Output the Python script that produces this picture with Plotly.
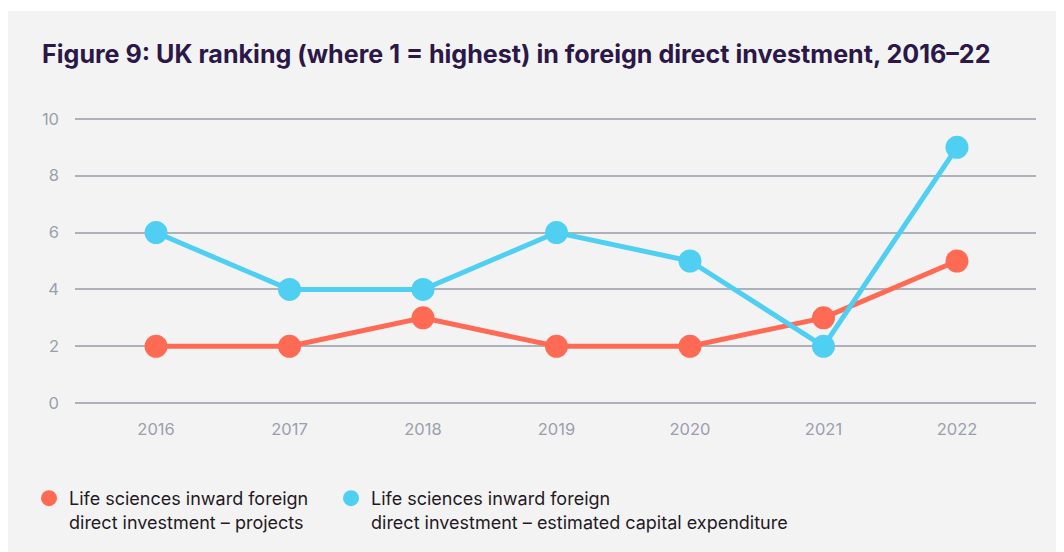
import plotly.graph_objects as go

years = [2016, 2017, 2018, 2019, 2020, 2021, 2022]
projects = [2, 2, 3, 2, 2, 3, 5]
capex = [6, 4, 4, 6, 5, 2, 9]

names = ["Life sciences inward foreign<br>direct investment – projects",
         "Life sciences inward foreign<br>direct investment – estimated capital expenditure"]
colours = ["#ff6a55", "#4fcff2"]

FONT = "Inter"
W, H = 1064, 552
ML, MR, MT, MB = 67, 36, 108, 154
pw, ph = W - ML - MR, H - MT - MB

fig = go.Figure()

# blue drawn last so it sits on top where the lines cross
for vals, col in [(projects, colours[0]), (capex, colours[1])]:
    fig.add_trace(go.Scatter(x=years, y=vals, mode="lines+markers",
                             line=dict(color=col, width=5),
                             marker=dict(color=col, size=23),
                             showlegend=False, hoverinfo="x+y"))

# legend-only entries with just a dot, one legend box each
for i, (name, col) in enumerate(zip(names, colours)):
    fig.add_trace(go.Scatter(x=[None], y=[None], mode="markers", name=name,
                             marker=dict(color=col, size=17),
                             legend="legend" if i == 0 else "legend2"))

# grey panel behind everything (white strip along the top)
fig.add_shape(type="rect", layer="below", line_width=0, fillcolor="#f3f3f3",
              xref="paper", yref="paper",
              x0=-ML / pw, x1=(W - ML) / pw,
              y0=-MB / ph, y1=(H - MB - 3) / ph)

leg = dict(orientation="h", xanchor="left", yanchor="top", valign="top",
           y=(H - MB - 472) / ph,
           font=dict(family=FONT, size=18, color="#1f1a24"),
           bgcolor="rgba(0,0,0,0)", itemclick=False, itemdoubleclick=False)

fig.update_layout(
    width=W, height=H,
    margin=dict(l=ML, r=MR, t=MT, b=MB),
    paper_bgcolor="white", plot_bgcolor="rgba(0,0,0,0)",
    font=dict(family=FONT, color="#9a9fae", size=16),
    title=dict(text="<b>Figure 9: UK ranking (where 1 = highest) in foreign direct investment, 2016–22</b>",
               x=34 / W, xanchor="left", xref="container",
               y=1 - 46 / H, yanchor="middle", yref="container",
               font=dict(family=FONT, size=25.1, color="#2b1748")),
    xaxis=dict(range=[2015.393, 2022.592], tickvals=years, showgrid=False,
               zeroline=False, showline=False, ticks="", ticklabelstandoff=11,
               tickfont=dict(color="#9a9fae", size=16.5)),
    yaxis=dict(range=[-0.1, 10.1], tickvals=[0, 2, 4, 6, 8, 10], showgrid=True,
               gridcolor="#aeb1ba", gridwidth=1.5, zeroline=False, showline=False,
               ticks="", ticklabelstandoff=15,
               tickfont=dict(color="#9a9fae", size=16.5)),
    legend=dict(leg, x=(21 - ML) / pw),
    legend2=dict(leg, x=(323 - ML) / pw),
)

fig.write_html("out.html")
